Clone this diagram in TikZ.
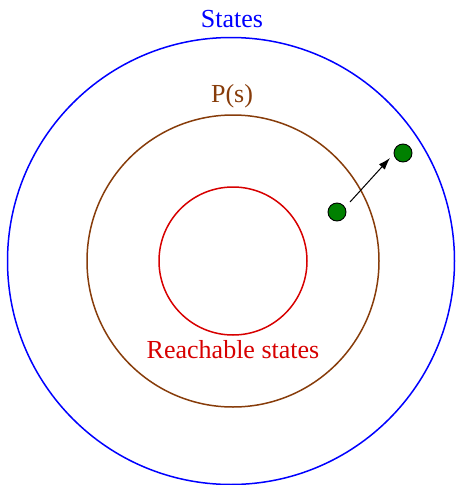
\documentclass[tikz,border=0pt]{standalone}
\usepackage{fontspec}
\setmainfont{Liberation Serif}
\usetikzlibrary{arrows.meta}
\definecolor{cblue}{RGB}{0,0,255}
\definecolor{cbrown}{RGB}{135,60,10}
\definecolor{cred}{RGB}{215,0,0}
\definecolor{cgreen}{RGB}{0,128,0}
\begin{document}
\begin{tikzpicture}[x=1pt,y=-1pt,
  ring/.style={draw, line width=1.5pt, circle, inner sep=0pt},
  lbl/.style={anchor=base, inner sep=0pt, font=\fontsize{26}{30}\selectfont},
  dot/.style={circle, draw=black, fill=cgreen, line width=0.9pt, minimum size=18pt, inner sep=0pt}]
\useasboundingbox (0,0) rectangle (456,485);
\node[ring, draw=cblue, minimum size=447pt] (states) at (231,261) {};
\node[ring, draw=cbrown, minimum size=292pt] (ps) at (233,261) {};
\node[ring, draw=cred, minimum size=148pt] (reach) at (233,261) {};
\node[lbl, text=cblue] (tstates) at (232,27) {States};
\node[lbl, text=cbrown] (tps) at (232,102) {P(s)};
\node[lbl, text=cred] (treach) at (233,358) {Reachable states};
\node[dot] (d1) at (337,212) {};
\node[dot] (d2) at (403,153) {};
\coordinate (a1) at (350,202);
\coordinate (a2) at (390,158);
\draw[line width=1pt, -{Latex[length=12pt,width=8pt]}] (a1) -- (a2);
\end{tikzpicture}
\end{document}
